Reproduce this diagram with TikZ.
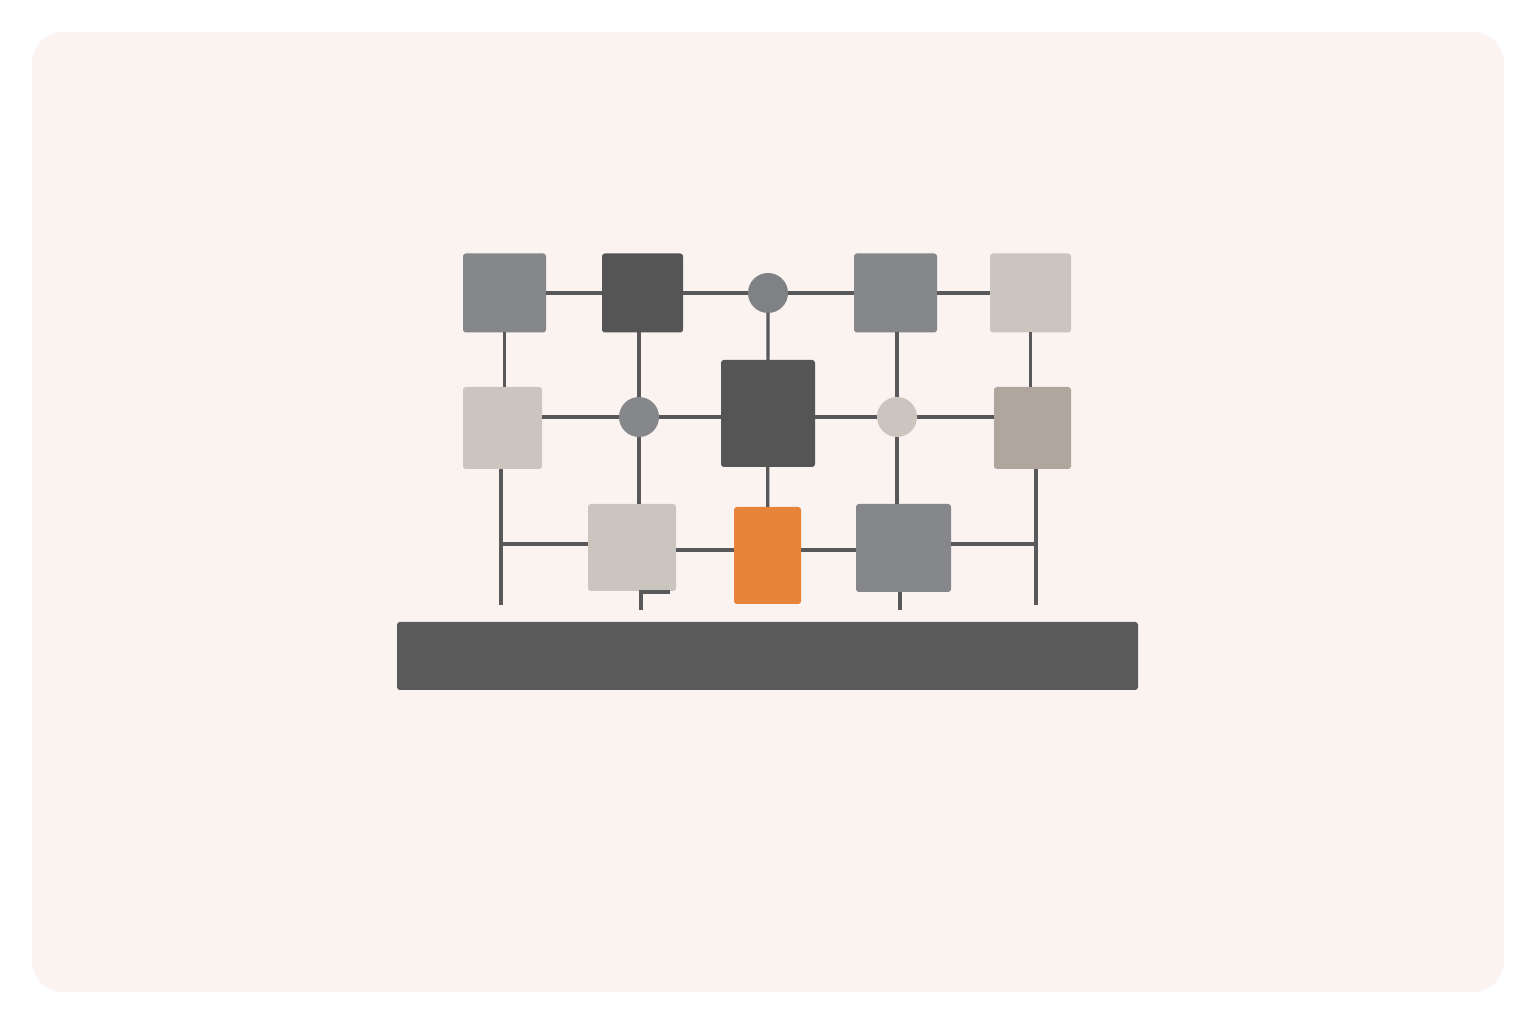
\documentclass[tikz,border=0pt]{standalone}
\definecolor{paper}{HTML}{FAF3F0}
\definecolor{midgray}{HTML}{86878A}
\definecolor{darkgray}{HTML}{555555}
\definecolor{stone}{HTML}{CBC5BF}
\definecolor{taupe}{HTML}{B1A69E}
\definecolor{signal}{HTML}{E8843A}
\definecolor{hubgray}{HTML}{808184}
\definecolor{bargray}{HTML}{5A5A5A}
\definecolor{wiregray}{HTML}{58585A}
\begin{document}
\begin{tikzpicture}[x=0.1mm,y=-0.1mm,
  block/.style={rectangle,inner sep=0pt,outer sep=0pt,rounded corners=0.8pt},
  hub/.style={circle,inner sep=0pt,outer sep=0pt,minimum size=4mm},
  wire/.style={draw=wiregray,line width=0.9pt}
]
  \fill[white] (0,0) rectangle (1536,1024);
  \fill[paper,rounded corners=3.1mm] (32,32) rectangle (1504,992);
  % top row
  \node[block,fill=midgray,minimum width=8.3mm,minimum height=7.9mm] (a) at (504.5,293) {};
  \node[block,fill=darkgray,minimum width=8.1mm,minimum height=7.9mm] (b) at (642.5,293) {};
  \node[hub,fill=hubgray] (c1) at (768,293) {};
  \node[block,fill=midgray,minimum width=8.3mm,minimum height=7.9mm] (d) at (895.5,293) {};
  \node[block,fill=stone,minimum width=8.1mm,minimum height=7.9mm] (e) at (1030.5,293) {};
  % middle row
  \node[block,fill=stone,minimum width=7.9mm,minimum height=8.2mm] (l2) at (502.5,428) {};
  \node[hub,fill=midgray] (c2) at (639,417) {};
  \node[block,fill=darkgray,minimum width=9.4mm,minimum height=10.7mm] (m) at (768,413.5) {};
  \node[hub,fill=stone] (c3) at (897,417) {};
  \node[block,fill=taupe,minimum width=7.7mm,minimum height=8.2mm] (f) at (1032.5,428) {};
  % bottom row
  \node[block,fill=stone,minimum width=8.8mm,minimum height=8.7mm] (h) at (632,547.5) {};
  \node[block,fill=signal,minimum width=6.7mm,minimum height=9.7mm] (o) at (767.5,555.5) {};
  \node[block,fill=midgray,minimum width=9.5mm,minimum height=8.8mm] (g) at (903.5,548) {};
  \node[block,fill=bargray,minimum width=74.1mm,minimum height=6.8mm] (bar) at (767.5,656) {};
  % junctions and loose ends
  \coordinate (jl) at (501,544);
  \coordinate (jlb) at (501,605);
  \coordinate (jr) at (1036,544);
  \coordinate (jrb) at (1036,605);
  \coordinate (mid) at (768,550);
  \coordinate (hs) at (641,610);
  \coordinate (hk) at (670,592);
  \coordinate (gs) at (900,610);
  % wires
  \draw[wire] (a) -- (b) -- (c1) -- (d) -- (e);
  \draw[wire] (l2.east |- c2) -- (c2) -- (m.west |- c2);
  \draw[wire] (m.east |- c3) -- (c3) -- (f.west |- c3);
  \draw[wire] (a.south) -- (a.south |- l2.north);
  \draw[wire] (b.south -| c2) -- (c2) -- (c2 |- h.north);
  \draw[wire] (c1) -- (m) -- (o);
  \draw[wire] (d.south -| c3) -- (c3) -- (c3 |- g.north);
  \draw[wire] (e.south) -- (e.south |- f.north);
  \draw[wire] (l2.south -| jl) -- (jlb);
  \draw[wire] (jl) -- (h.west |- jl);
  \draw[wire] (h.east |- mid) -- (o.west |- mid);
  \draw[wire] (o.east |- mid) -- (g.west |- mid);
  \draw[wire] (g.east |- jr) -- (jr);
  \draw[wire] (f.south -| jr) -- (jrb);
  \draw[wire] (hk) -| (hs);
  \draw[wire] (g.south -| gs) -- (gs);
\end{tikzpicture}
\end{document}
